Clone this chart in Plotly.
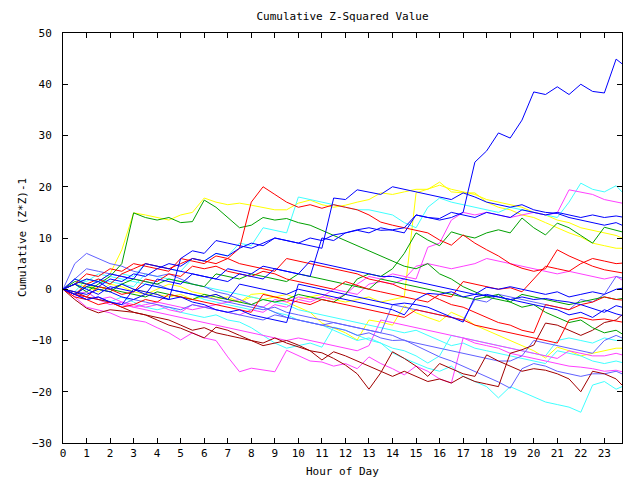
import plotly.graph_objects as go

# time grid (hours), half-hour samples plus last sample at 23:45
hours = [i * 0.5 for i in range(48)] + [23.75]

# ---- series values ----
blue_1 = [0,-1,0.5,1.5,0,1,0,-1,2,1.5, 1,3,2.5,2,1.5,3,2.5,2,4,3.5,
          3,2.5,10,9.5,11,11.5,11,12,11.5,11, 14.5,14,13.5,14,15,24.8,27,30.5,29.5,33,
          38.5,38,39.5,38,40,38.6,38.3,44.9,44]
blue_2 = [0,2,1,0.5,2,1.5,3,2.5,4,5, 4.5,6,5.5,7,6.5,8,9,8.5,10,9.5,
          9,8.5,8,17.8,17.5,19.4,19,18.5,20,19.5, 19,18.6,18,17.5,18.8,18,17,16.5,16,16.5,
          15.5,15,14.8,14,13.5,13,12.5,13,12.5]
blue_3 = [0,-0.5,-1,0,-0.5,-1.5,-2,-1,-1.5,-2, 6,7.5,7,9.5,9,8.5,8,9,10,9.5,
          9,10,9.5,10.6,11,11.6,12,11.5,11.6,12, 14.5,14,13.8,15,14.5,14,15,14.5,14,15.5,
          15,14.5,15,14.5,14,14.5,14,14.3,14.1]
blue_4 = [0,1,2,1.5,3,2.5,2,5,4.5,4, 3.5,3,2.5,2,4,3.5,3,4.5,4,3.5,
          3,5.5,5,4.5,4,3.5,3,2.5,2.5,2, 1.5,1,0.5,0,-0.5,-1,0.4,0,0.5,0,
          -0.5,-1,-0.5,-1.5,-1,-0.5,-1,0,0.2]
blue_5 = [0,1,0,-1,0.5,0,-0.5,1,0.5,0, -0.5,-1,-1.5,-1,-2,1,0.5,0,-0.5,-1,
          0,-0.5,-1,-1.5,-2,-2.5,-3,-3.5,-4,-5, -2,-0.8,-1,-0.5,-1.5,-1,-1.2,-1.5,-2,-1.5,
          -2,-1.8,-2.2,-2.5,-3,-3.8,-4.5,-3.2,-3.5]
blue_6 = [0,-1,-2,-1.5,-2.5,-3,0,-0.5,-1,-2, -1.5,-2.5,-3,-4,-4.5,-4,-5,-5.5,-6,-6.5,
          1,0.5,0,-0.5,-1,-1.5,-2,-2.5,-3,-2.7, -3,-3.5,-4.5,-5.5,-6.4,-1.5,-1,-1.5,-2,-2.5,
          -3,-3.5,-4,-5,-4.5,-5.5,-4,-4.8,-5.1]
lightblue_1 = [0,5,7,6,5,4.5,3.5,3,2.5,3, 2,1,0.5,-0.5,-1,-2,-3,-3.5,-4.5,-5.5,
               -6,-6.5,-7,-7.5,-8,-9,-8.5,-9.5,-10,-9.9, -11,-12,-13.2,-14,-15,-16,-17,-18.1,-19.3,-15.5,
               -14.5,-15,-16,-16.5,-17,-16.5,-16.5,-16,-16.5]
lightblue_2 = [0,-1,-2,-1.5,-2.5,-3,-2,-2.5,-3,-3.5, -4,-3,-3.5,-4,-4.5,-5,-5.5,-6,-5,-5.5,
               -6,-6.5,-7,-6.5,-7,-7.5,-8,-8.5,-3,-3.5, -4,-4.5,-5,-5.5,-6,-2,-2.5,-1,-1.5,-2,
               -2.5,-3,-3.5,-4,-2,-2.5,-1,2.5,2.2]
lightblue_3 = [0,2,4,3.5,3,2.5,2,1.5,1,0, -0.5,-1,-1.5,-2,-2.5,-3,-3.5,-4,-3.5,-4.5,
               -5,-5.5,-6,-6.5,-7,-7.5,-8,-8.5,-9,-10, -10.5,-11,-11.5,-12,-12.5,-13,-13.5,-14,-14,-13,
               -10,-10.5,-11,-11.5,-12,-12.5,-10,-9,-9.5]
red_1 = [0,-1,1,2,1,3,4,5,4.5,4, 5,6,5.5,5,6,8,17,20,18.5,17,
         16,16.5,15.8,16.5,16,15.5,14.5,13.1,12.5,12, 11.6,11,9.6,8.6,10.6,9,7.7,6.5,5,4.1,
         3.5,4,7.7,6.5,5.5,4.5,3.8,3.4,3.2]
red_2 = [0,-1,-1.5,0.5,0,-1,-0.5,2,1.5,3, 2.5,4.5,4,4.5,3.5,3,2.5,3.5,3,2,
         1.5,1,0.5,0,1.5,0.8,0,-0.5,-1,-1.5, -2,-2.5,-1,-1.5,1.5,1,0.5,0,0.3,-0.5,
         2,4.5,4,3.5,5,6,5.5,5,5.1]
red_3 = [0,1,3,2.5,4,3.5,5,4.5,4,3.5, 6,5.5,5,6.5,6,5,4.5,4,3.5,6,
         5.5,5,4.5,4,3.5,3,2,1.5,1,0, -0.5,-1,-2,-3,-3.5,-4.5,-5.5,-6.5,-7,-8,
         -8.5,-3,-3.5,-4,-3,-2.5,-1.5,-2,-2.1]
red_4 = [0,-1.5,-2,-3,-2.5,-3.5,-3,-2,-2.5,-1, -1.5,-2,-2.5,-3,-3.5,-4,-4.5,-1,-1.5,-2,
         -2.5,-3,-2,-2.5,-3,-3.5,-4,-4.5,-5,-5.5, -4,-4.5,-5,-5.5,-6,-7,-7.5,-8,-8.5,-9,
         -9.5,-10,-10.5,-6,-5.5,-6,-5.8,-6.2,-6.4]
darkred_1 = [0,-2,-3.7,-4.6,-4,-4.2,-4.5,-5,-6,-7, -7.6,-8.5,-9.5,-7.4,-8,-9,-10,-10.5,-9.5,-10.5,
             -11.3,-12,-12.4,-13.5,-14.8,-16.5,-19.5,-16.3,-12.2,-13.5, -15,-17,-14.5,-15.5,-16.5,-17,-12.8,-14,-15,-16,
             -15.5,-15.8,-16.5,-17.5,-20,-16,-16.5,-17.5,-18.7]
darkred_2 = [0,-0.5,-1.5,-2,-2.5,-3.5,-4.5,-5,-5.5,-6, -7,-8,-7.5,-8.5,-9,-9.5,-10,-11,-10.5,-10,
             -10.9,-12,-13.8,-12.2,-13,-14,-15,-16,-17,-16, -17,-18,-17.5,-18.3,-17,-18,-18.5,-19,-12.5,-11.8,
             -10.9,-6.6,-7,-8,-9,-8,-6.5,-6,-5]
green_1 = [0,1,-0.5,1,2.5,5,14.9,14,13.5,14, 13,13.2,17.4,16,14,12,12.5,14,13.5,13.8,
           13,12.5,11.5,10.5,9.5,8.6,7.5,6.5,5.5,4.5, 4,5,3,2,0.5,-0.5,-1.5,-1,-2.5,-3.5,
           -3,-4.5,-5.5,-6.5,-6,-7.5,-8.5,-8,-8.7]
green_2 = [0,1.5,1,0.5,0,-0.5,-1,-1.5,-0.5,-1, -1.5,-2,-1,-1.5,-2,-2.5,-3,-2,-2.5,-2,
           -1,-1.5,-2,-2.5,-1,2,3,2.5,4,7, 11,9.6,8.5,11.2,10.5,10,11,11.6,11,13.9,
           12,10.6,12.9,12,10.5,9,12.1,11.5,11.2]
green_3 = [0,-1,0.5,0,-0.5,1,2,1.5,1,2, 1.5,1,0.5,3,2.5,2,3,2.5,2,1.5,
           3,2.5,2,1.5,1,0.5,0,2,1.5,1, 0.5,0,-0.5,-1,-1.5,-2,-1.5,-2,-2.5,-1,
           -1.5,-2,-2.5,-3,-2.5,-2,-1.5,-2,-1.8]
yellow_1 = [0,1,2,1.5,3,7.7,14.9,14.5,14,13.5, 14.5,15,17.8,17,16.5,16.8,16.4,16,15.5,15.5,
            16.8,17.4,16.5,16,16.4,17,17.5,18.8,18.5,19, 19.5,19.5,20.9,19,18.8,18.8,17,16,15.5,14.5,
            14,13,12,11,10.2,9,8.5,8,8]
yellow_2 = [0,1,0.5,-0.5,1,0.5,-0.5,-1,0,1, 0.5,-0.5,-1,-2,-1.5,-2.5,-1.5,-2,-1.5,-1,
            -2,-1.5,-1,-2,-2.5,-2,-1.5,-2.5,-2,-1.5, 18.8,19.5,20.3,19.5,19,18.5,17.5,17,16.5,16,
            15,14.5,13.5,13,12,11.5,11,10.5,10]
yellow_3 = [0,2,1,0,-0.5,1,0,-0.5,-1,-1.5, -1,-2,-1.5,-1,-2,-2.5,-1,-0.8,-1.5,-2.5,
            -3.5,-4.5,-6.6,-7.5,-8.5,-9.9,-6,-6.4,-7,-3.2, -4.6,-5.5,-6.3,-4.5,-5.5,-7,-8,-9,-10,-11,
            -12,-13.4,-11.3,-12,-13,-12.5,-12,-11.5,-11.5]
cyan_1 = [0,-0.5,2,1.5,1,3,2.5,5,4.5,4, 3.5,6,5.5,7,6.5,9,8.5,12,11.5,11,
          18,17.5,17,16.5,16,15.5,15.5,15,14.5,13, 12,16,17.8,17,16.5,16,15.5,15,16,15.5,
          15,14.5,14,17,20.7,19.5,19,20.2,19]
cyan_2 = [0,-1,-0.5,-2,-2.5,-1.5,-2.5,-3.5,-4,-3.5, -4.5,-5,-5.5,-5,-6,-6.4,-7.5,-9,-10.5,-11.5,
          -11,-10.5,-11.3,-7.4,-8,-9,-9.9,-10.5,-12.4,-13.5, -14.5,-15.4,-16,-15,-17,-18,-19,-21.2,-19,-20,
          -21,-22,-22.5,-23,-24,-18.7,-18,-19.5,-19]
cyan_3 = [0,2,1.5,3,2.5,2,1.5,1,0.5,0, -0.5,-1,-2,-2.5,-3,-3.5,-4,-3.5,-4.5,-5,
          -6,-6.5,-7,-8,-9,-10,-9.5,-10.5,-11.5,-12, -13,-14.4,-13,-9,-9.5,-10,-10.5,-11,-11.5,-12,
          -12.5,-13,-10,-9.5,-10,-10.5,-9.5,-10,-9.9]
cyan_4 = [0,1,0,2,1.5,1,0.5,3,2.5,2, 1.5,1,0.5,0,-0.5,-1,-1.5,-2,-2.5,-3,
          -4,-4.5,-5,-5.5,-6,-6.5,-7,-7.5,-8,-8.5, -8,-9,-10,-11,-10.5,-11.5,-12,-12.5,-13,-13.5,
          -14,-14.5,-12,-12.5,-13,-14,-14.5,-14,-14.3]
magenta_1 = [0,-1,-1.5,-2,-1.5,-2.5,-3,-3.5,-3,-4, -4.5,-3,-3.5,-4,-4.5,-5,-4,-4.5,-3,-3.5,
             -2,-2.5,-1.5,-2,-1,1,2.5,2,3,2.5, 2,8.2,9,13.5,15,14.5,15,14.5,14,14.5,
             15,14.5,14.9,19.4,19,18.5,17.5,17,16.8]
magenta_2 = [0,-1.5,-3.5,-4,-4.6,-5.6,-6,-6.4,-7.5,-8.5, -9.9,-8.5,-9.5,-10,-13.2,-16.1,-15.4,-15.8,-16.1,-11.9,
             -13,-14,-14.2,-15,-14.5,-15.5,-13.2,-14.5,-15.5,-16.7, -15,-16,-17.5,-18.3,-9.5,-10.5,-11,-11.5,-12.5,-13,
             -13.5,-14,-14.5,-15,-15.2,-15.5,-16,-15.8,-16.1]
magenta_3 = [0,-1,-2,-1.5,-2.5,-3,-3.5,-3,-2.5,-3, -3.5,-4,-3.5,-3,-2.5,-2,-3,-3.5,-2,-2.5,
             -1.5,-2,-1.5,0,-0.5,-1,1,1.5,1,2, 4.5,5,4.5,4,4.5,5,6,5.5,5,4.5,
             4,3.5,3,3.5,3,2.5,2,2.5,1.8]
magenta_4 = [0,-1,-0.5,-2,-3,-2.5,-3.5,-4,-4.5,-5, -5.5,-6,-6.5,-7,-7.5,-8,-8.5,-9,-9.5,-10,
             -9.5,-10,-10.5,-11,-11.5,-12,-11,-6,-6.5,-7, -7.5,-8,-8.5,-9,-9.5,-10,-10.5,-11,-11.5,-12,
             -12.5,-13,-13.5,-12,-12.5,-13,-13,-12.5,-12.8]

# ---- colours ----
C_RED = "#ff0000"
C_GREEN = "#00a000"
C_BLUE = "#0000ff"
C_MAGENTA = "#ff40ff"
C_CYAN = "#40ffff"
C_DARKRED = "#a00000"
C_YELLOW = "#ffff00"
C_LIGHTBLUE = "#6060ff"

series = [
    (yellow_1, C_YELLOW), (yellow_2, C_YELLOW), (yellow_3, C_YELLOW),
    (cyan_1, C_CYAN), (cyan_2, C_CYAN), (cyan_3, C_CYAN), (cyan_4, C_CYAN),
    (magenta_1, C_MAGENTA), (magenta_2, C_MAGENTA), (magenta_3, C_MAGENTA), (magenta_4, C_MAGENTA),
    (lightblue_1, C_LIGHTBLUE), (lightblue_2, C_LIGHTBLUE), (lightblue_3, C_LIGHTBLUE),
    (darkred_1, C_DARKRED), (darkred_2, C_DARKRED),
    (green_1, C_GREEN), (green_2, C_GREEN), (green_3, C_GREEN),
    (red_1, C_RED), (red_2, C_RED), (red_3, C_RED), (red_4, C_RED),
    (blue_2, C_BLUE), (blue_3, C_BLUE), (blue_4, C_BLUE), (blue_5, C_BLUE), (blue_6, C_BLUE),
    (blue_1, C_BLUE),
]

x_ticks = list(range(0, 24))
y_ticks = list(range(-30, 51, 10))

FONT = "DejaVu Sans Mono"
FSIZE = 11

fig = go.Figure()
for vals, col in series:
    fig.add_trace(go.Scatter(x=hours, y=vals, mode="lines",
                             line=dict(color=col, width=1), hoverinfo="skip"))

axis_common = dict(showline=True, linecolor="black", linewidth=1, mirror="ticks",
                   ticks="inside", ticklen=5, tickwidth=1, tickcolor="black",
                   showgrid=False, zeroline=False,
                   tickfont=dict(family=FONT, size=FSIZE, color="black"))

fig.update_layout(
    width=640, height=480,
    margin=dict(l=63, r=18, t=33, b=37),
    paper_bgcolor="white", plot_bgcolor="white",
    showlegend=False,
    font=dict(family=FONT, size=FSIZE, color="black"),
    title=dict(text="Cumulative Z-Squared Value", x=0.5, xref="paper", xanchor="center",
               y=1 - 16 / 480, yref="container", yanchor="middle",
               font=dict(family=FONT, size=FSIZE, color="black")),
    xaxis=dict(range=[0, 23.75], tickvals=x_ticks, ticklabelstandoff=0, **axis_common),
    yaxis=dict(range=[-30, 50], tickvals=y_ticks, ticklabelstandoff=8, **axis_common),
    annotations=[
        dict(text="Hour of Day", xref="paper", yref="paper", x=0.5, y=-28 / 410,
             xanchor="center", yanchor="middle", showarrow=False,
             font=dict(family=FONT, size=FSIZE, color="black")),
        dict(text="Cumulative (Z*Z)-1", xref="paper", yref="paper", x=-41 / 559, y=0.5,
             xanchor="center", yanchor="middle", textangle=-90, showarrow=False,
             font=dict(family=FONT, size=FSIZE, color="black")),
    ],
)

fig.write_html("out.html")
